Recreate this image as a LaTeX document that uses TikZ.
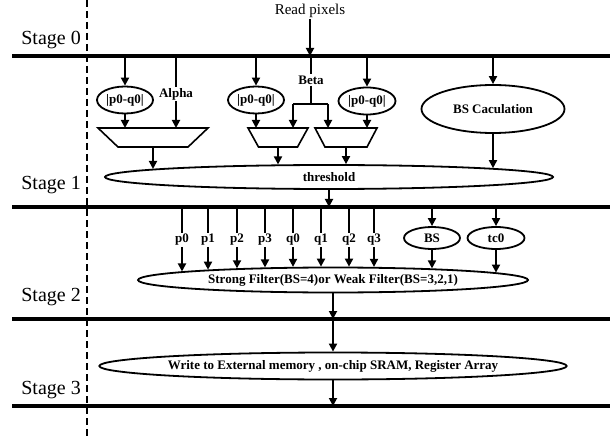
\documentclass[tikz,border=0pt]{standalone}
\usepackage{fontspec}
\setmainfont{Liberation Serif}
\usetikzlibrary{arrows.meta,shapes.geometric,calc}
\tikzset{
 arr/.style={line width=1.8pt,-{Triangle[length=8pt,width=8pt]}},
 conn/.style={line width=1.8pt},
 stageline/.style={line width=3.5pt},
 ell/.style={ellipse,draw,line width=1.8pt,inner sep=0pt,font=\fontsize{13}{15}\selectfont\bfseries},
 trapbox/.style={rectangle,draw=none,minimum height=19pt,inner sep=0pt,outer sep=0pt},
 trapline/.style={line width=1.6pt,line join=miter},
 lbl/.style={font=\fontsize{13}{15}\selectfont\bfseries,inner sep=1pt},
 stg/.style={font=\fontsize{20}{22}\selectfont,anchor=east,inner sep=0pt},
}
\newcommand\ellarrow[2]{\draw[arr] let \p1=(#1), \p2=(#2.center), \p3=(#2.east), \p4=(#2.north) in (\p1) -- (\x1,{\y2+(\y4-\y2)*sqrt(max(0,1-((\x1-\x2)/(\x3-\x2))^2))});}
\newcommand\trapdraw[2]{\draw[trapline] (#1.north west) -- (#1.north east) -- ([xshift=-#2pt]#1.south east) -- ([xshift=#2pt]#1.south west) -- cycle;}
\begin{document}
\begin{tikzpicture}[x=1pt,y=-1pt]
\useasboundingbox (0,0) rectangle (612,438);
% dashed separator
\coordinate (dT) at (87,0); \coordinate (dB) at (87,438);
\draw[line width=1.5pt,dash pattern=on 7pt off 4pt] (dT) -- (dB);
% stage lines
\coordinate (s0L) at (12,56);  \coordinate (s0R) at (610,56);
\coordinate (s1L) at (12,207); \coordinate (s1R) at (610,207);
\coordinate (s2L) at (12,319); \coordinate (s2R) at (610,319);
\coordinate (s3L) at (12,406); \coordinate (s3R) at (610,406);
\foreach \a/\b in {s0L/s0R,s1L/s1R,s2L/s2R,s3L/s3R} \draw[stageline] (\a) -- (\b);
% stage labels
\node[stg] (st0) at (81,40) {Stage 0};
\node[stg] (st1) at (81,185) {Stage 1};
\node[stg] (st2) at (81,297) {Stage 2};
\node[stg] (st3) at (81,390) {Stage 3};
% stage 0 -> 1
\node[font=\fontsize{15}{17}\selectfont,inner sep=1pt] (read) at (310,11) {Read pixels};
\draw[arr] (read.south) -- (read.south |- s0L);
\node[ell,minimum width=56pt,minimum height=27pt] (e1) at (125,100) {|p0-q0|};
\node[lbl] (alpha) at (176,94) {Alpha};
\node[trapbox,minimum width=110pt] (t1) at (153,137.5) {};
\trapdraw{t1}{20}
\node[ell,minimum width=56pt,minimum height=27pt] (e2) at (256,100) {|p0-q0|};
\node[lbl] (beta) at (311,80) {Beta};
\coordinate (bL) at (293,104); \coordinate (bR) at (328,104);
\node[trapbox,minimum width=60pt] (t2) at (278,137.5) {};
\trapdraw{t2}{10.5}
\node[ell,minimum width=57pt,minimum height=27pt] (e3) at (367,101) {|p0-q0|};
\node[trapbox,minimum width=62pt] (t3) at (346,137.5) {};
\trapdraw{t3}{10}
\node[ell,minimum width=143pt,minimum height=48pt] (bsc) at (493,109) {BS Caculation};
\node[ell,minimum width=448pt,minimum height=24pt] (thr) at (329,177) {threshold};
\draw[arr] (e1 |- s0L) -- (e1.north);
\draw[arr] (e1.south) -- (e1.south |- t1.north);
\draw[conn] (alpha |- s0L) -- (alpha.north);
\draw[arr] (alpha.south) -- (alpha.south |- t1.north);
\draw[arr] (e2 |- s0L) -- (e2.north);
\draw[arr] (e2.south) -- (e2.south |- t2.north);
\draw[conn] (beta |- s0L) -- (beta.north);
\draw[conn] (beta.south) -- (beta.south |- bL);
\draw[conn] (bL) -- (bR);
\draw[arr] (bL) -- (bL |- t2.north);
\draw[arr] (bR) -- (bR |- t3.north);
\draw[arr] (e3 |- s0L) -- (e3.north);
\draw[arr] (e3.south) -- (e3.south |- t3.north);
\draw[arr] (bsc |- s0L) -- (bsc.north);
\ellarrow{t1.south}{thr}
\ellarrow{t2.south}{thr}
\ellarrow{t3.south}{thr}
\ellarrow{bsc.south}{thr}
\draw[arr] (thr.south) -- (thr.south |- s1L);
% stage 1 -> 2
\node[ell,minimum width=390pt,minimum height=25pt] (filt) at (333,280) {Strong Filter(BS=4)or Weak Filter(BS=3,2,1)};
\foreach \nm/\xx in {p0/182,p1/208,p2/237,p3/265,q0/293,q1/321,q2/349,q3/374}{
  \node[lbl] (\nm) at (\xx,240) {\nm};
  \draw[conn] (\nm |- s1L) -- (\nm.north);
  \ellarrow{\nm.south}{filt}
}
\node[ell,minimum width=56pt,minimum height=22pt] (bs) at (432,238) {BS};
\node[ell,minimum width=57pt,minimum height=22pt] (tc) at (496,238) {tc0};
\draw[arr] (bs |- s1L) -- (bs.north);
\draw[arr] (tc |- s1L) -- (tc.north);
\ellarrow{bs.south}{filt}
\ellarrow{tc.south}{filt}
\draw[arr] (filt.south) -- (filt.south |- s2L);
% stage 2 -> 3
\node[ell,minimum width=403pt,minimum height=27pt] (wr) at (333,366) {Write to External memory , on-chip SRAM, Register Array};
\draw[arr] (wr |- s2L) -- (wr.north);
\draw[arr] (wr.south) -- (wr.south |- s3L);
\end{tikzpicture}
\end{document}
